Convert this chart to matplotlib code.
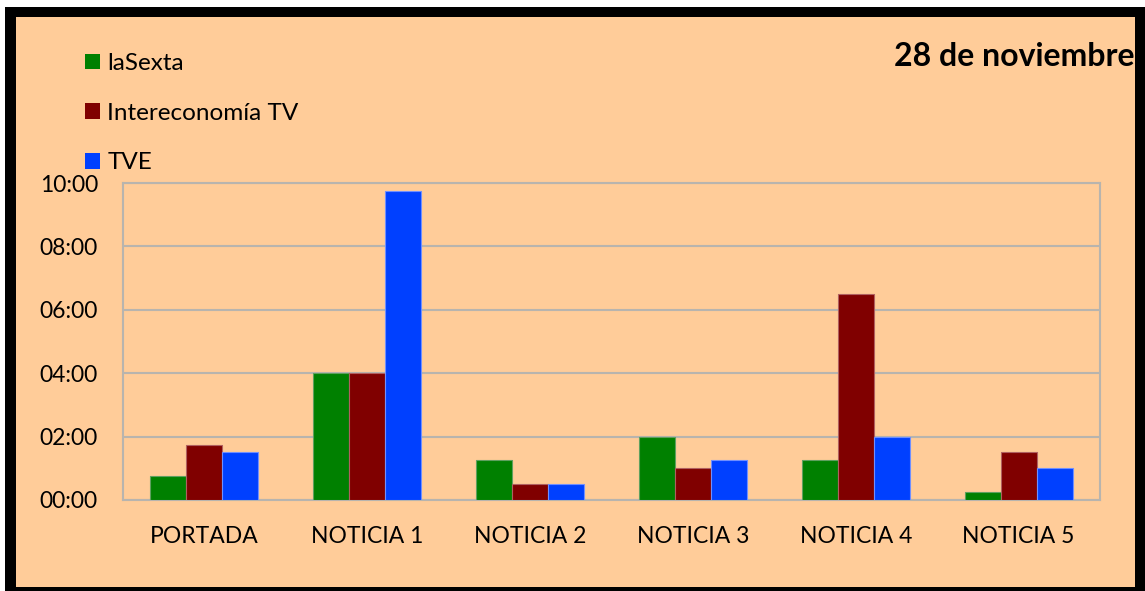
import matplotlib
matplotlib.use("Agg")
import matplotlib.pyplot as plt
from matplotlib.patches import Rectangle, Patch
from matplotlib.ticker import FuncFormatter, MultipleLocator
import numpy as np

categories = ["PORTADA", "NOTICIA 1", "NOTICIA 2", "NOTICIA 3", "NOTICIA 4", "NOTICIA 5"]
series_names = ["laSexta", "Intereconomía TV", "TVE"]
# durations in seconds
lasexta = [45, 240, 75, 120, 75, 15]
intereconomia = [105, 240, 30, 60, 390, 90]
tve = [90, 585, 30, 75, 120, 60]
colors = ["#008000", "#800000", "#0040FF"]
edge_colors = ["#5FA05F", "#B06060", "#6F8FFF"]
title = "28 de noviembre"

W, H = 1145, 591
fig = plt.figure(figsize=(W / 100, H / 100), dpi=100, facecolor="white")
plt.rcParams['font.family'] = ['Lato', 'DejaVu Sans']

# outer black frame and peach panel
fig.patches.append(Rectangle((5 / W, 0), (W - 5) / W, (H - 7) / H, transform=fig.transFigure,
                             facecolor="black", edgecolor="none", zorder=-2))
fig.patches.append(Rectangle((16 / W, 4 / H), (1135 - 16) / W, (587 - 17) / H, transform=fig.transFigure,
                             facecolor="#FFCC99", edgecolor="none", zorder=-1))

left, right, top, bottom = 123, 1100, 183, 500
ax = fig.add_axes([left / W, 1 - bottom / H, (right - left) / W, (bottom - top) / H])
ax.set_facecolor("none")

x = np.arange(len(categories))
bw = 0.221
for i, (vals, c, ec, name) in enumerate(zip([lasexta, intereconomia, tve], colors, edge_colors, series_names)):
    mins = np.array(vals) / 60.0
    ax.bar(x + (i - 1) * bw, mins, width=bw, color=c, edgecolor=ec, linewidth=0.8, label=name, zorder=3)

ax.set_xlim(-0.5, len(categories) - 0.5)
ax.set_ylim(0, 10)
ax.yaxis.set_major_locator(MultipleLocator(2))
ax.yaxis.set_major_formatter(FuncFormatter(lambda v, p: f"{int(round(v)):02d}:00"))
ax.set_xticks(x)
ax.set_xticklabels(categories)
ax.tick_params(axis='both', length=0, labelsize=16.5, colors="black")
ax.tick_params(axis='y', pad=18)
ax.tick_params(axis='x', pad=19)
ax.grid(axis='y', color="#B8B4AE", linewidth=1.5, zorder=0)
for s in ax.spines.values():
    s.set_color("#B8B4AE")
    s.set_linewidth(1.5)

handles = [Patch(facecolor=c, edgecolor='none') for c in colors]
fig.legend(handles, series_names, loc='upper left', bbox_to_anchor=(85 / W, 1 - 53 / H),
           frameon=False, fontsize=17.5, borderpad=0, borderaxespad=0,
           handlelength=0.62, handleheight=0.62, handletextpad=0.3, labelspacing=1.18)

fig.text(1135 / W, 1 - 56 / H, title, ha='right', va='center', fontsize=23, fontweight='bold')

fig.savefig("out.png", dpi=100, facecolor="white")
